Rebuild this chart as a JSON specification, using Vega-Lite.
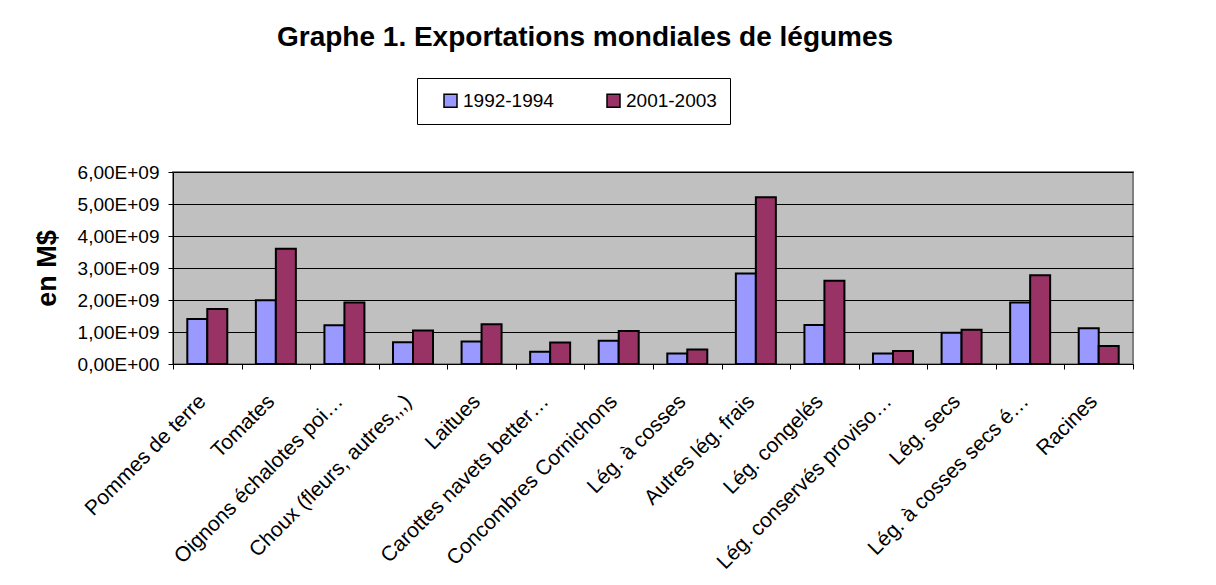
{
  "$schema": "https://vega.github.io/schema/vega-lite/v6.json",
  "autosize": {"type": "none"},
  "width": 960,
  "height": 192,
  "padding": {"left": 173, "top": 172, "right": 83, "bottom": 221},
  "background": "white",
  "title": {
    "text": "Graphe 1. Exportations  mondiales de légumes",
    "anchor": "start",
    "frame": "group",
    "dx": 104,
    "offset": 4,
    "baseline": "alphabetic",
    "font": "Liberation Sans",
    "fontSize": 28,
    "fontWeight": "bold",
    "color": "black"
  },
  "data": {
    "values": [
      {"categorie": "Pommes de terre", "periode": "1992-1994", "valeur": 1410000000},
      {"categorie": "Pommes de terre", "periode": "2001-2003", "valeur": 1720000000},
      {"categorie": "Tomates", "periode": "1992-1994", "valeur": 1990000000},
      {"categorie": "Tomates", "periode": "2001-2003", "valeur": 3600000000},
      {"categorie": "Oignons échalotes poi…", "periode": "1992-1994", "valeur": 1210000000},
      {"categorie": "Oignons échalotes poi…", "periode": "2001-2003", "valeur": 1920000000},
      {"categorie": "Choux (fleurs, autres,,,)", "periode": "1992-1994", "valeur": 680000000},
      {"categorie": "Choux (fleurs, autres,,,)", "periode": "2001-2003", "valeur": 1050000000},
      {"categorie": "Laitues", "periode": "1992-1994", "valeur": 700000000},
      {"categorie": "Laitues", "periode": "2001-2003", "valeur": 1240000000},
      {"categorie": "Carottes navets better…", "periode": "1992-1994", "valeur": 380000000},
      {"categorie": "Carottes navets better…", "periode": "2001-2003", "valeur": 670000000},
      {"categorie": "Concombres Cornichons", "periode": "1992-1994", "valeur": 730000000},
      {"categorie": "Concombres Cornichons", "periode": "2001-2003", "valeur": 1030000000},
      {"categorie": "Lég. à cosses", "periode": "1992-1994", "valeur": 330000000},
      {"categorie": "Lég. à cosses", "periode": "2001-2003", "valeur": 450000000},
      {"categorie": "Autres lég. frais", "periode": "1992-1994", "valeur": 2830000000},
      {"categorie": "Autres lég. frais", "periode": "2001-2003", "valeur": 5210000000},
      {"categorie": "Lég. congelés", "periode": "1992-1994", "valeur": 1220000000},
      {"categorie": "Lég. congelés", "periode": "2001-2003", "valeur": 2600000000},
      {"categorie": "Lég. conservés proviso…", "periode": "1992-1994", "valeur": 330000000},
      {"categorie": "Lég. conservés proviso…", "periode": "2001-2003", "valeur": 410000000},
      {"categorie": "Lég. secs", "periode": "1992-1994", "valeur": 980000000},
      {"categorie": "Lég. secs", "periode": "2001-2003", "valeur": 1070000000},
      {"categorie": "Lég. à cosses secs é…", "periode": "1992-1994", "valeur": 1920000000},
      {"categorie": "Lég. à cosses secs é…", "periode": "2001-2003", "valeur": 2770000000},
      {"categorie": "Racines", "periode": "1992-1994", "valeur": 1120000000},
      {"categorie": "Racines", "periode": "2001-2003", "valeur": 560000000}
    ]
  },
  "mark": {"type": "bar", "stroke": "black", "strokeWidth": 2},
  "encoding": {
    "x": {
      "field": "categorie",
      "type": "nominal",
      "sort": null,
      "scale": {"paddingInner": 0, "paddingOuter": 0},
      "axis": {
        "title": null,
        "tickBand": "extent",
        "tickSize": 5,
        "tickColor": "black",
        "domainColor": "black",
        "labelAngle": -45,
        "labelAlign": "right",
        "labelBaseline": "middle",
        "labelPadding": 29,
        "labelOffset": -5,
        "labelFont": "Liberation Sans",
        "labelFontSize": 21,
        "labelColor": "black",
        "labelLimit": 400,
        "grid": false
      }
    },
    "xOffset": {
      "field": "periode",
      "type": "nominal",
      "scale": {"paddingInner": 0, "paddingOuter": 0.715}
    },
    "y": {
      "field": "valeur",
      "type": "quantitative",
      "scale": {"domain": [0, 6000000000], "nice": false},
      "axis": {
        "values": [0, 1000000000, 2000000000, 3000000000, 4000000000, 5000000000, 6000000000],
        "labelExpr": "datum.value == 0 ? '0,00E+00' : replace(format(datum.value / 1000000000, '.2f'), '.', ',') + 'E+09'",
        "labelFont": "Liberation Sans",
        "labelFontSize": 19,
        "labelColor": "black",
        "labelPadding": 9,
        "tickSize": 5,
        "tickColor": "black",
        "domainColor": "black",
        "grid": true,
        "gridColor": "black",
        "gridWidth": 1,
        "title": "en M$",
        "titleFont": "Liberation Sans",
        "titleFontSize": 27,
        "titleFontWeight": "bold",
        "titleColor": "black",
        "titleAngle": 270,
        "titleAlign": "center",
        "titleBaseline": "bottom",
        "titleX": -112,
        "titleY": 96
      }
    },
    "color": {
      "field": "periode",
      "type": "nominal",
      "scale": {"domain": ["1992-1994", "2001-2003"], "range": ["#9999FF", "#993366"]},
      "legend": {
        "orient": "none",
        "legendX": 244,
        "legendY": -94,
        "direction": "horizontal",
        "title": null,
        "strokeColor": "black",
        "fillColor": "white",
        "padding": 13,
        "symbolType": "square",
        "symbolSize": 169,
        "symbolStrokeColor": "black",
        "symbolStrokeWidth": 1.5,
        "symbolOffset": 11,
        "labelOffset": 3,
        "columnPadding": 39,
        "labelFont": "Liberation Sans",
        "labelFontSize": 19,
        "labelColor": "black"
      }
    }
  },
  "config": {
    "view": {"fill": "#C0C0C0", "stroke": "#808080", "strokeWidth": 2},
    "axis": {"domainWidth": 1, "tickWidth": 1}
  }
}
